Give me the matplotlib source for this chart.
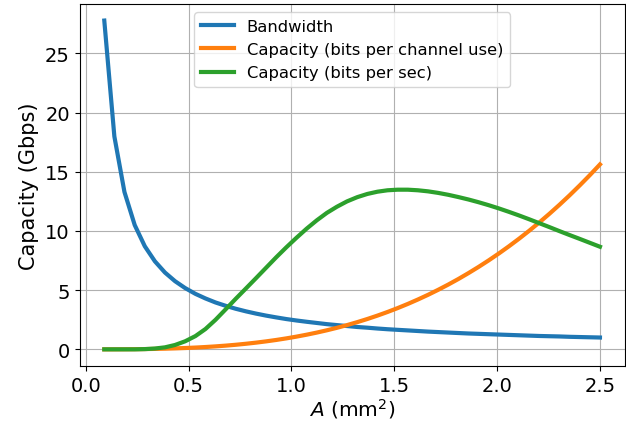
import matplotlib
matplotlib.use("Agg")
import matplotlib.pyplot as plt

plt.rcParams['font.family'] = ['DejaVu Sans']

# electrode area A (mm^2)
area = [0.090, 0.139, 0.188, 0.238, 0.287, 0.336, 0.385, 0.434, 0.483, 0.533,
        0.582, 0.631, 0.680, 0.729, 0.779, 0.828, 0.877, 0.926, 0.975, 1.024,
        1.074, 1.123, 1.172, 1.221, 1.270, 1.320, 1.369, 1.418, 1.467, 1.516,
        1.566, 1.615, 1.664, 1.713, 1.762, 1.811, 1.861, 1.910, 1.959, 2.008,
        2.057, 2.107, 2.156, 2.205, 2.254, 2.303, 2.352, 2.402, 2.451, 2.500]

bandwidth = [27.78, 17.99, 13.30, 10.50, 8.71, 7.44, 6.49, 5.76, 5.18, 4.69,
             4.30, 3.96, 3.68, 3.43, 3.21, 3.02, 2.85, 2.70, 2.56, 2.44,
             2.33, 2.23, 2.13, 2.05, 1.97, 1.89, 1.83, 1.76, 1.70, 1.65,
             1.60, 1.55, 1.50, 1.46, 1.42, 1.38, 1.34, 1.31, 1.28, 1.25,
             1.22, 1.19, 1.16, 1.13, 1.11, 1.09, 1.06, 1.04, 1.02, 1.00]

cap_per_use = [0.001, 0.003, 0.007, 0.013, 0.024, 0.038, 0.057, 0.082, 0.113, 0.151,
               0.197, 0.251, 0.314, 0.387, 0.473, 0.568, 0.675, 0.794, 0.927, 1.074,
               1.239, 1.416, 1.610, 1.820, 2.048, 2.300, 2.565, 2.851, 3.157, 3.484,
               3.840, 4.213, 4.607, 5.027, 5.470, 5.939, 6.446, 6.968, 7.518, 8.096,
               8.704, 9.354, 10.022, 10.721, 11.451, 12.214, 13.009, 13.858, 14.724, 15.625]

cap_per_sec = [0.00, 0.00, 0.00, 0.00, 0.02, 0.07, 0.17, 0.37, 0.68, 1.12,
               1.72, 2.50, 3.38, 4.27, 5.15, 6.02, 6.90, 7.78, 8.62, 9.42,
               10.20, 10.90, 11.53, 12.05, 12.50, 12.86, 13.13, 13.32, 13.44, 13.49,
               13.49, 13.44, 13.35, 13.22, 13.06, 12.87, 12.66, 12.43, 12.18, 11.91,
               11.62, 11.31, 10.99, 10.66, 10.33, 9.99, 9.66, 9.33, 9.00, 8.67]

fig = plt.figure(figsize=(6.26, 4.27), dpi=100)
ax = fig.add_axes([0.127, 0.141, 0.871, 0.847])

ax.plot(area, bandwidth, linewidth=3, label="Bandwidth")
ax.plot(area, cap_per_use, linewidth=3, label="Capacity (bits per channel use)")
ax.plot(area, cap_per_sec, linewidth=3, label="Capacity (bits per sec)")

ax.grid(True)
ax.set_xlabel(r"$A$ (mm$^2$)", fontsize=14.5, labelpad=1)
ax.set_ylabel("Capacity (Gbps)", fontsize=15)
ax.tick_params(labelsize=14)
ax.legend(loc="upper center", fontsize=11.8)

fig.savefig("out.png", dpi=100)
